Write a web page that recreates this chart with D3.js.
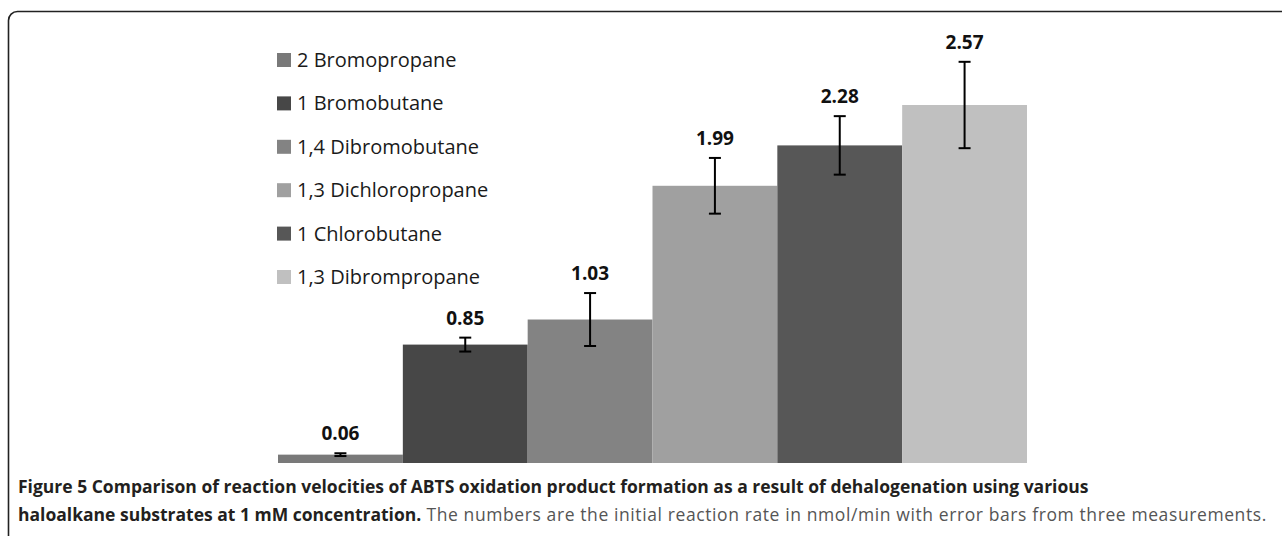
<!DOCTYPE html>
<html>
<head>
<meta charset="utf-8">
<script src="https://cdnjs.cloudflare.com/ajax/libs/d3/7.8.5/d3.min.js"></script>
<style>
  body { margin: 0; background: #fff; }
  svg { display: block; }
</style>
</head>
<body>
<div id="chart"></div>
<script>
// substrates, rates (nmol/min) and error bars
var substrates = ["2 Bromopropane", "1 Bromobutane", "1,4 Dibromobutane",
                  "1,3 Dichloropropane", "1 Chlorobutane", "1,3 Dibrompropane"];
var rates = [0.06, 0.85, 1.03, 1.99, 2.28, 2.57];
var errors = [0.01, 0.05, 0.19, 0.20, 0.21, 0.31];
var shades = ["#797979", "#474747", "#838383", "#a0a0a0", "#575757", "#c0c0c0"];

var width = 1282, height = 536;
var chartFont = "'Open Sans', 'Noto Sans', sans-serif";

var svg = d3.select('#chart')
    .append('svg')
    .attr('width', width)
    .attr('height', height);

// figure frame (rounded corner top-left, runs off the right/bottom)
svg.append('rect')
    .attr('x', 8.5)
    .attr('y', 11.5)
    .attr('width', 1300)
    .attr('height', 560)
    .attr('rx', 9)
    .style('fill', 'none')
    .style('stroke', '#222')
    .style('stroke-width', 1.6);

var x = d3.scaleBand()
    .domain(substrates)
    .range([278, 1027])
    .padding(0);

var y = d3.scaleLinear()
    .domain([0, 2.57])
    .range([463, 105]);

// bars
svg.selectAll('rect.bar')
    .data(substrates)
    .enter()
    .append('rect')
    .attr('class', 'bar')
    .attr('x', function(d){ return x(d); })
    .attr('y', function(d, i){ return y(rates[i]); })
    .attr('width', x.bandwidth())
    .attr('height', function(d, i){ return y(0) - y(rates[i]); })
    .style('fill', function(d, i){ return shades[i]; });

// error bars
var eb = svg.selectAll('g.err')
    .data(substrates)
    .enter()
    .append('g')
    .attr('class', 'err')
    .style('stroke', '#000')
    .style('stroke-width', 2);

var cx = function(d){ return x(d) + x.bandwidth() / 2; };
eb.append('line')
    .attr('x1', cx).attr('x2', cx)
    .attr('y1', function(d, i){ return y(rates[i] + errors[i]); })
    .attr('y2', function(d, i){ return y(rates[i] - errors[i]); });
eb.append('line')
    .attr('x1', function(d){ return cx(d) - 6; })
    .attr('x2', function(d){ return cx(d) + 6; })
    .attr('y1', function(d, i){ return y(rates[i] + errors[i]); })
    .attr('y2', function(d, i){ return y(rates[i] + errors[i]); });
eb.append('line')
    .attr('x1', function(d){ return cx(d) - 6; })
    .attr('x2', function(d){ return cx(d) + 6; })
    .attr('y1', function(d, i){ return y(rates[i] - errors[i]); })
    .attr('y2', function(d, i){ return y(rates[i] - errors[i]); });

// value labels
svg.selectAll('text.val')
    .data(substrates)
    .enter()
    .append('text')
    .attr('class', 'val')
    .attr('x', cx)
    .attr('y', function(d, i){ return y(rates[i] + errors[i]) - 13; })
    .attr('text-anchor', 'middle')
    .style('font-family', chartFont)
    .style('font-weight', 'bold')
    .style('font-size', '19px')
    .style('fill', '#111')
    .text(function(d, i){ return rates[i].toFixed(2); });

// legend
var legend = svg.selectAll('g.legend')
    .data(substrates)
    .enter()
    .append('g')
    .attr('class', 'legend')
    .attr('transform', function(d, i){ return 'translate(277,' + (60 + i * 43.4) + ')'; });

legend.append('rect')
    .attr('x', 0)
    .attr('y', -7)
    .attr('width', 14)
    .attr('height', 14)
    .style('fill', function(d, i){ return shades[i]; });

legend.append('text')
    .attr('x', 20)
    .attr('y', 0)
    .attr('dy', '0.35em')
    .style('font-family', chartFont)
    .style('font-size', '20px')
    .style('fill', '#1a1a1a')
    .text(function(d){ return d; });

// caption
var cap = svg.append('text')
    .attr('x', 18)
    .attr('y', 493)
    .style('font-family', "'Open Sans', 'Noto Sans', sans-serif")
    .style('font-size', '17.5px');

cap.append('tspan')
    .style('font-weight', 'bold')
    .style('fill', '#231f20')
    .text('Figure 5 Comparison of reaction velocities of ABTS oxidation product formation as a result of dehalogenation using various');

var cap2 = svg.append('text')
    .attr('x', 18)
    .attr('y', 521)
    .style('font-family', "'Open Sans', 'Noto Sans', sans-serif")
    .style('font-size', '17.5px');

cap2.append('tspan')
    .style('font-weight', 'bold')
    .style('fill', '#231f20')
    .text('haloalkane substrates at 1 mM concentration.');
cap2.append('tspan')
    .style('fill', '#555')
    .style('letter-spacing', '0.6px')
    .text(' The numbers are the initial reaction rate in nmol/min with error bars from three measurements.');
</script>
</body>
</html>
